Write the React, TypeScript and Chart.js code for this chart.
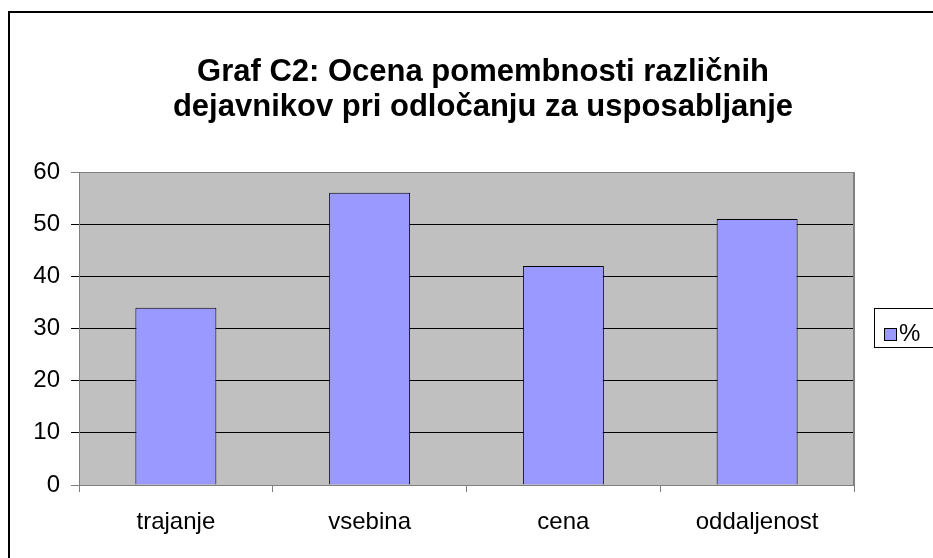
import React, { useEffect, useRef } from "react";
import { Chart, registerables } from "chart.js";

Chart.register(...registerables);

const titleLines = [
  "Graf C2: Ocena pomembnosti različnih",
  "dejavnikov pri odločanju za usposabljanje",
];
const categories = ["trajanje", "vsebina", "cena", "oddaljenost"];
const seriesLabel = "%";
const values = [34, 56, 42, 51];
const yMin = 0;
const yMax = 60;
const yStep = 10;

const FONT = '"Liberation Sans", Arial, sans-serif';
const BAR_COLOR = "#9999FF";
const PLOT_BG = "#C0C0C0";
const AXIS_GRAY = "#808080";

const decorPlugin = {
  id: "decor",
  beforeDraw(chart: any) {
    const { ctx, chartArea: a } = chart;
    ctx.save();
    ctx.fillStyle = PLOT_BG;
    ctx.fillRect(a.left, a.top, a.right - a.left, a.bottom - a.top);
    ctx.restore();
  },
  afterDraw(chart: any) {
    const { ctx, chartArea: a, width, height } = chart;
    ctx.save();
    // right border of plot area
    ctx.strokeStyle = AXIS_GRAY;
    ctx.lineWidth = 2;
    ctx.beginPath();
    ctx.moveTo(a.right, a.top);
    ctx.lineTo(a.right, a.bottom);
    ctx.stroke();
    // outer chart border (left & top)
    ctx.fillStyle = "#000";
    ctx.fillRect(8, 11, width - 8, 2);
    ctx.fillRect(8, 11, 2, height - 11);
    // title
    ctx.fillStyle = "#000";
    ctx.font = `bold 31px ${FONT}`;
    ctx.textAlign = "center";
    ctx.textBaseline = "alphabetic";
    ctx.fillText(titleLines[0], 483, 81);
    ctx.fillText(titleLines[1], 483, 116);
    // legend
    ctx.strokeStyle = "#000";
    ctx.lineWidth = 1;
    ctx.strokeRect(874.5, 308.5, 80, 39);
    ctx.fillStyle = BAR_COLOR;
    ctx.fillRect(884.5, 328.5, 12, 12);
    ctx.strokeRect(884.5, 328.5, 12, 12);
    ctx.fillStyle = "#000";
    ctx.font = `24px ${FONT}`;
    ctx.textAlign = "left";
    ctx.textBaseline = "middle";
    ctx.fillText(chart.data.datasets[0].label, 899, 334);
    ctx.restore();
  },
};

export default function App() {
  const canvasRef = useRef<HTMLCanvasElement | null>(null);

  useEffect(() => {
    if (!canvasRef.current) return;
    const chart = new Chart(canvasRef.current, {
      type: "bar",
      data: {
        labels: categories,
        datasets: [
          {
            label: seriesLabel,
            data: values,
            backgroundColor: BAR_COLOR,
            borderColor: "#000000",
            borderWidth: 1,
            barPercentage: 0.418,
            categoryPercentage: 1,
          },
        ],
      },
      options: {
        responsive: false,
        animation: false,
        devicePixelRatio: 1,
        layout: { padding: { left: 0, top: 172, right: 79, bottom: 0 } },
        plugins: {
          legend: { display: false },
          title: { display: false },
          tooltip: { enabled: false },
        },
        scales: {
          x: {
            afterFit(scale: any) {
              scale.height = 73;
            },
            grid: {
              offset: true,
              drawOnChartArea: false,
              tickLength: 7,
              color: AXIS_GRAY,
            },
            border: { color: AXIS_GRAY, width: 1 },
            ticks: {
              color: "#000",
              padding: 16,
              font: { family: FONT, size: 24 },
              maxRotation: 0,
            },
          },
          y: {
            min: yMin,
            max: yMax,
            afterFit(scale: any) {
              scale.width = 79;
            },
            grid: {
              tickLength: 8,
              color: (c: any) =>
                c.tick && (c.tick.value === yMax || c.tick.value === yMin)
                  ? AXIS_GRAY
                  : "#000000",
            },
            border: { color: AXIS_GRAY, width: 1 },
            ticks: {
              stepSize: yStep,
              color: "#000",
              padding: 11,
              font: { family: FONT, size: 24 },
            },
          },
        },
      },
      plugins: [decorPlugin],
    });
    return () => chart.destroy();
  }, []);

  return (
    <div style={{ position: "absolute", left: 0, top: 0, width: 933, height: 558, background: "#fff" }}>
      <canvas ref={canvasRef} width={933} height={558} style={{ display: "block" }} />
    </div>
  );
}
